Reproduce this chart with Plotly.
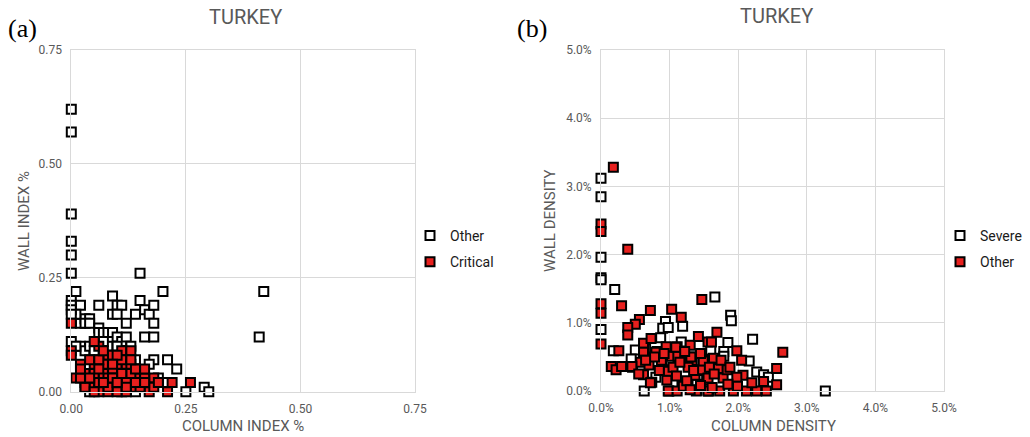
import plotly.graph_objects as go

# ---------------- Panel (a) data: column index % vs wall index % ----------------
a_other_x = [0, 0, 0, 0, 0, 0, 0.15, 0.01, 0.20, 0.42, 0.41,
             0, 0, 0.02, 0.06, 0.09, 0.10, 0.11, 0.15, 0.16, 0.17, 0.18,
             0.09, 0.10, 0.14, 0.18, 0.12, 0.02, 0.03, 0.01, 0, 0,
             0.04, 0.03, 0.04,
             0.06, 0.06, 0.07, 0.08, 0.09, 0.10, 0.11, 0.16, 0.18, 0, 0.02, 0.03,
             0.18, 0.21, 0.23, 0.17, 0.14, 0.29, 0.30, 0.25, 0.20, 0.21,
             0.04, 0.03, 0.05, 0.08, 0.12, 0.13, 0.15, 0.09, 0.11, 0.14, 0.16,
             0.19, 0.07, 0.12, 0.01, 0.04, 0.05, 0.13, 0.10]
a_other_y = [0.62, 0.57, 0.39, 0.33, 0.30, 0.26, 0.26, 0.22, 0.22, 0.22, 0.12,
             0.20, 0.19, 0.19, 0.19, 0.21, 0.19, 0.19, 0.20, 0.18, 0.17, 0.19,
             0.17, 0.17, 0.17, 0.15, 0.15, 0.15, 0.16, 0.17, 0.18, 0.17,
             0.16, 0.15, 0.15,
             0.14, 0.13, 0.13, 0.13, 0.13, 0.12, 0.11, 0.12, 0.12, 0.11, 0.10, 0.09,
             0.07, 0.07, 0.05, 0.06, 0.07, 0.01, 0.00, 0.00, 0.02, 0.02,
             0.00, 0.01, 0.08, 0.10, 0.08, 0.05, 0.04, 0.02, 0.00, 0.00, 0.01,
             0.03, 0.11, 0.12, 0.10, 0.10, 0.09, 0.10, 0.10]

a_crit_x = [0, 0, 0, 0.06, 0.05, 0.11, 0.13, 0.08, 0.02, 0.05, 0.07, 0.10, 0.12,
            0.03, 0.05, 0.07, 0.10, 0.12, 0.01, 0.15, 0.18, 0.08, 0.11, 0.14,
            0.17, 0.22, 0.26, 0.04, 0.08, 0.10, 0.17, 0.21, 0.06, 0.12, 0.03,
            0.03, 0.12, 0.14, 0.16, 0.09, 0.11, 0.13, 0.04, 0.06, 0.09, 0.07,
            0.10, 0.13, 0.18, 0.15, 0.19, 0.08, 0.02, 0.06, 0.14, 0.11, 0.16,
            0.02, 0.04, 0.06, 0.09, 0.12, 0.14, 0.07, 0.10, 0.05, 0.16, 0.13, 0.09]
a_crit_y = [0.15, 0.09, 0.08, 0.10, 0.11, 0.09, 0.09, 0.08, 0.06, 0.06, 0.06, 0.06, 0.06,
            0.04, 0.04, 0.04, 0.04, 0.04, 0.03, 0.03, 0.03, 0.03, 0.02, 0.01,
            0.01, 0.02, 0.02, 0.01, 0.00, 0.00, 0.00, 0.00, 0.02, 0.02, 0.02,
            0.01, 0.00, 0.03, 0.03, 0.05, 0.07, 0.06, 0.07, 0.07, 0.08, 0.09,
            0.08, 0.04, 0.01, 0.01, 0.02, 0.01, 0.03, 0.00, 0.05, 0.04, 0.05,
            0.05, 0.03, 0.05, 0.03, 0.01, 0.02, 0.02, 0.02, 0.00, 0.02, 0.07, 0.06]

# ---------------- Panel (b) data: column density % vs wall density % ----------------
b_severe_x = [0, 0, 0, 0, 0, 0.20, 1.66, 1.89, 1.90, 0.94, 0.90, 0.98, 1.19, 0,
              2.21, 1.85, 0.87, 2.16, 2.27, 2.37, 2.44, 3.27, 0.63, 0.18, 0.50,
              0.44, 1.79, 1.79, 1.17, 1.30, 1.50, 1.00, 0.80, 1.60, 1.40, 0.65]
b_severe_y = [3.12, 2.85, 1.96, 1.66, 1.63, 1.49, 1.38, 1.11, 1.03, 1.02, 0.92, 0.93, 0.95, 0.90,
              0.76, 0.71, 0.78, 0.44, 0.28, 0.24, 0.20, 0.00, 0.00, 0.59, 0.60,
              0.47, 0.58, 0.51, 0.72, 0.50, 0.30, 0.40, 0.20, 0.60, 0.10, 0.62]

b_other_x = [0.18, 0, 0, 0.39, 0, 0, 0, 0.30, 0.72, 1.03, 1.17, 0.56, 0.50, 0.39, 0.39,
             1.47, 0.26, 0.15, 0.22, 0.30, 0.46, 0.62, 0.73, 0.62, 0.62, 0.62, 0.74,
             0.82, 0.89, 0.95, 1.03, 1.11, 1.12, 1.03, 0.96, 0.99, 1.18, 1.30, 1.33,
             1.27, 1.37, 1.40, 1.50, 1.47, 1.54, 1.57, 1.56, 1.42,
             1.69, 1.61, 1.98, 2.05, 2.65, 2.56, 2.56, 2.37, 2.07, 1.98, 1.78, 1.56,
             1.52, 1.64, 1.71, 1.84, 2.12, 2.27, 2.41, 1.93, 1.73, 1.56, 1.99,
             0.98, 1.11, 1.20, 1.39, 0.98, 0.88, 0.80, 0.58, 0.72, 1.09, 1.31, 1.49,
             0.70, 0.85, 0.92, 1.05, 1.15, 1.22, 1.35, 1.45, 1.58, 1.65, 1.75, 1.85,
             1.25, 1.10, 0.78, 0.65, 1.45, 1.62, 1.88, 1.30, 2.20, 0.45, 0.55]
b_other_y = [3.28, 2.45, 2.34, 2.08, 1.28, 1.14, 0.69, 1.25, 1.18, 1.20, 1.08, 1.05, 0.98, 0.93, 0.82,
             1.34, 0.59, 0.36, 0.31, 0.36, 0.35, 0.70, 0.77, 0.57, 0.45, 0.24, 0.13,
             0.58, 0.45, 0.65, 0.51, 0.65, 0.51, 0.31, 0.16, 0.00, 0.07, 0.67, 0.45,
             0.35, 0.23, 0.01, 0.45, 0.31, 0.16, 0.00, 0.72, 0.80,
             0.86, 0.72, 0.59, 0.45, 0.57, 0.33, 0.09, 0.14, 0.23, 0.20, 0.19, 0.19,
             0.45, 0.48, 0.33, 0.31, 0.00, 0.00, 0.00, 0.00, 0.00, 0.00, 0.07,
             0.00, 0.00, 0.07, 0.00, 0.29, 0.45, 0.57, 0.42, 0.12, 0.64, 0.50, 0.44,
             0.38, 0.30, 0.55, 0.35, 0.42, 0.58, 0.30, 0.55, 0.35, 0.25, 0.45, 0.10,
             0.15, 0.22, 0.50, 0.45, 0.08, 0.05, 0.35, 0.02, 0.12, 0.36, 0.25]

tick_a = [0, 0.25, 0.5, 0.75]
tick_a_labels = ["0.00", "0.25", "0.50", "0.75"]
tick_b = [0, 1, 2, 3, 4, 5]
tick_b_labels = ["0.0%", "1.0%", "2.0%", "3.0%", "4.0%", "5.0%"]

RED = "#E8201E"
GRID = "#D9D9D9"
TXT = "#595959"
FONT = "Roboto"

W, H = 1030, 437

def px_x(p):
    return p / W

def px_y(p):
    return 1 - p / H

marker_open = dict(symbol="square", size=9, color="white", line=dict(color="black", width=2))
marker_red = dict(symbol="square", size=9, color=RED, line=dict(color="black", width=2))

fig = go.Figure()
fig.add_trace(go.Scatter(x=a_other_x, y=a_other_y, mode="markers", name="Other",
                         marker=marker_open, xaxis="x", yaxis="y", cliponaxis=False,
                         legend="legend", legendgroup="a1"))
fig.add_trace(go.Scatter(x=a_crit_x, y=a_crit_y, mode="markers", name="Critical",
                         marker=marker_red, xaxis="x", yaxis="y", cliponaxis=False,
                         legend="legend", legendgroup="a2"))
fig.add_trace(go.Scatter(x=b_severe_x, y=b_severe_y, mode="markers", name="Severe",
                         marker=marker_open, xaxis="x2", yaxis="y2", cliponaxis=False,
                         legend="legend2", legendgroup="b1"))
fig.add_trace(go.Scatter(x=b_other_x, y=b_other_y, mode="markers", name="Other",
                         marker=marker_red, xaxis="x2", yaxis="y2", cliponaxis=False,
                         legend="legend2", legendgroup="b2"))

axis_common = dict(showgrid=True, gridcolor=GRID, gridwidth=1, zeroline=False,
                   showline=True, linecolor=GRID, linewidth=1, mirror=True,
                   ticks="", ticklabelstandoff=6, automargin=False,
                   tickfont=dict(family=FONT, size=12, color=TXT))

fig.update_layout(
    width=W, height=H,
    margin=dict(l=0, r=0, t=0, b=0, autoexpand=False),
    paper_bgcolor="white", plot_bgcolor="white",
    font=dict(family=FONT, color=TXT),
    xaxis=dict(domain=[px_x(71.3), px_x(415)], range=[0, 0.75], tickvals=tick_a,
               ticktext=tick_a_labels, anchor="y", **axis_common),
    yaxis=dict(domain=[px_y(391.7), px_y(50)], range=[0, 0.75], tickvals=tick_a,
               ticktext=tick_a_labels, anchor="x", **axis_common),
    xaxis2=dict(domain=[px_x(601), px_x(944)], range=[0, 5], tickvals=tick_b,
                ticktext=tick_b_labels, anchor="y2", **axis_common),
    yaxis2=dict(domain=[px_y(391), px_y(50)], range=[0, 5], tickvals=tick_b,
                ticktext=tick_b_labels, anchor="x2", **axis_common),
    legend=dict(x=px_x(410), y=px_y(220), xanchor="left", yanchor="top",
                font=dict(family=FONT, size=14, color="#1A1A1A"),
                bgcolor="rgba(0,0,0,0)", tracegroupgap=5, itemwidth=30),
    legend2=dict(x=px_x(940), y=px_y(220), xanchor="left", yanchor="top",
                 font=dict(family=FONT, size=14, color="#1A1A1A"),
                 bgcolor="rgba(0,0,0,0)", tracegroupgap=5, itemwidth=30),
    showlegend=True,
)

annots = [
    dict(text="TURKEY", x=px_x(245), y=px_y(17), size=20, color=TXT, family=FONT, angle=0),
    dict(text="TURKEY", x=px_x(776), y=px_y(16), size=20, color=TXT, family=FONT, angle=0),
    dict(text="(a)", x=px_x(22), y=px_y(28), size=26, color="black", family="Liberation Serif", angle=0),
    dict(text="(b)", x=px_x(532), y=px_y(28), size=26, color="black", family="Liberation Serif", angle=0),
    dict(text="COLUMN INDEX %", x=px_x(243), y=px_y(426), size=15, color=TXT, family=FONT, angle=0),
    dict(text="WALL INDEX %", x=px_x(24), y=px_y(221), size=15, color=TXT, family=FONT, angle=-90),
    dict(text="COLUMN DENSITY", x=px_x(773), y=px_y(426), size=15, color=TXT, family=FONT, angle=0),
    dict(text="WALL DENSITY", x=px_x(550), y=px_y(221), size=15, color=TXT, family=FONT, angle=-90),
]
for a in annots:
    fig.add_annotation(text=a["text"], x=a["x"], y=a["y"], xref="paper", yref="paper",
                       xanchor="center", yanchor="middle", showarrow=False,
                       textangle=a["angle"],
                       font=dict(family=a["family"], size=a["size"], color=a["color"]))

fig.write_html("out.html")
